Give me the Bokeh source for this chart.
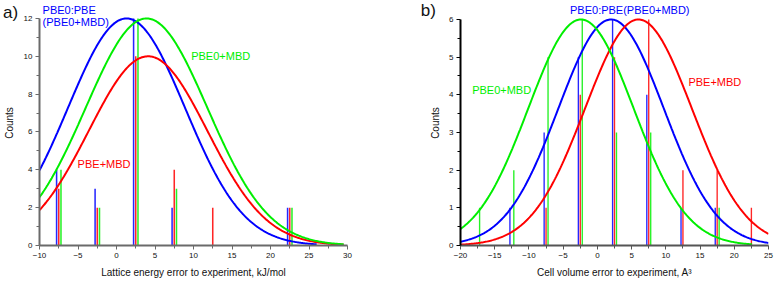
import numpy as np
from bokeh.plotting import figure
from bokeh.models import ColumnDataSource, Range1d, Label, FixedTicker
from bokeh.layouts import row
from bokeh.transform import dodge
from bokeh.embed import file_html
from bokeh.resources import INLINE

# ---------------- data: panel a (lattice energy error, kJ/mol) ----------------
a_bins = [-7.5, -2.5, 2.5, 7.5, 12.5, 17.5, 22.5]
a_pbe0_pbe = [4, 3, 12, 2, 0, 0, 2]
a_pbe_mbd = [3, 2, 10, 4, 2, 0, 2]
a_pbe0_mbd = [4, 2, 12, 3, 0, 0, 2]
# gaussian fits: centre, sigma, amplitude, last x drawn
a_fit_pbe0_pbe = (1.3, 7.6, 12.0, 26.0)
a_fit_pbe_mbd = (4.1, 7.7, 10.0, 29.5)
a_fit_pbe0_mbd = (3.9, 7.9, 12.0, 29.5)

# ---------------- data: panel b (cell volume error, A^3) ----------------
b_bins = [-17.5, -12.5, -7.5, -2.5, 2.5, 7.5, 12.5, 17.5, 22.5]
b_pbe0_pbe = [0, 1, 3, 5, 6, 4, 1, 1, 0]
b_pbe_mbd = [0, 0, 1, 4, 5, 6, 2, 2, 1]
b_pbe0_mbd = [1, 2, 5, 6, 3, 3, 0, 1, 0]
b_fit_pbe0_pbe = (2.0, 7.7, 6.0, 25.0)
b_fit_pbe_mbd = (6.0, 7.8, 6.0, 25.0)
b_fit_pbe0_mbd = (-2.4, 7.7, 6.0, 22.6)

BLUE = "#0000ff"
RED = "#ff0000"
GREEN = "#00ee00"
FONT = "Liberation Sans"


def gauss(fit, x0):
    mu, sig, amp, x1 = fit
    x = np.linspace(x0, x1, 300)
    return x, amp * np.exp(-((x - mu) ** 2) / (2 * sig ** 2))


def style(p, xlabel, ycolor, xcolor, ystandoff):
    p.outline_line_color = None
    p.xgrid.visible = False
    p.ygrid.visible = False
    for ax, col in ((p.xaxis[0], xcolor), (p.yaxis[0], ycolor)):
        ax.axis_line_color = col
        ax.axis_line_width = 2
        ax.major_tick_line_color = col
        ax.minor_tick_line_color = col
        ax.major_tick_line_width = 1
        ax.minor_tick_line_width = 1
        ax.major_tick_out = 4
        ax.major_tick_in = 0
        ax.minor_tick_out = 3
        ax.minor_tick_in = 0
        ax.major_label_text_font = FONT
        ax.major_label_text_font_size = "8px"
        ax.major_label_text_color = "#111111"
        ax.major_label_standoff = 3
        ax.axis_label_text_font = FONT
        ax.axis_label_text_font_size = "10px"
        ax.axis_label_text_font_style = "normal"
        ax.axis_label_text_color = "#111111"
    p.xaxis[0].axis_label_standoff = 6
    p.yaxis[0].axis_label_standoff = ystandoff
    p.xaxis.axis_label = xlabel
    p.yaxis.axis_label = "Counts"


def make_panel(bins, s_blue, s_red, s_green, fits, xr, yr, xlabel, width,
               border_left, border_right, xticks, yticks, ycolor, xcolor, ystandoff):
    p = figure(width=width, height=281, output_backend="svg", toolbar_location=None,
               x_range=Range1d(*xr), y_range=Range1d(0, yr[1]),
               min_border_left=border_left, min_border_right=border_right,
               min_border_top=0, min_border_bottom=36)
    style(p, xlabel, ycolor, xcolor, ystandoff)
    p.xaxis.bounds = xr
    p.yaxis.bounds = (0, yr[0])
    p.xaxis.ticker = FixedTicker(ticks=xticks[0], minor_ticks=xticks[1])
    p.yaxis.ticker = FixedTicker(ticks=yticks[0], minor_ticks=yticks[1])

    src = ColumnDataSource(dict(x=bins, blue=s_blue, red=s_red, green=s_green))
    bw = 0.2
    p.vbar(x=dodge("x", -0.28, range=p.x_range), top="blue", width=bw, bottom=0,
           source=src, fill_color=BLUE, line_color=None, fill_alpha=0.85)
    p.vbar(x=dodge("x", 0.0, range=p.x_range), top="red", width=bw, bottom=0,
           source=src, fill_color=RED, line_color=None, fill_alpha=0.85)
    p.vbar(x=dodge("x", 0.29, range=p.x_range), top="green", width=bw, bottom=0,
           source=src, fill_color=GREEN, line_color=None, fill_alpha=0.85)

    for fit, col in zip(fits, (BLUE, RED, GREEN)):
        x, y = gauss(fit, xr[0])
        p.line(x, y, line_color=col, line_width=2)
    return p


pa = make_panel(a_bins, a_pbe0_pbe, a_pbe_mbd, a_pbe0_mbd,
                (a_fit_pbe0_pbe, a_fit_pbe_mbd, a_fit_pbe0_mbd),
                (-10, 30), (12, 12.95), "Lattice energy error to experiment, kJ/mol",
                400, 38, 53,
                (list(range(-10, 31, 5)), [-7.5, -2.5, 2.5, 7.5, 12.5, 17.5, 22.5, 27.5]),
                (list(range(0, 13, 2)), [1, 3, 5, 7, 9, 11]),
                "#6a6a6a", "#6a6a6a", 6)

pb = make_panel(b_bins, b_pbe0_pbe, b_pbe_mbd, b_pbe0_mbd,
                (b_fit_pbe0_pbe, b_fit_pbe_mbd, b_fit_pbe0_mbd),
                (-20, 25), (6, 6.504), "Cell volume error to experiment, A\u00b3",
                375, 60, 7,
                (list(range(-20, 26, 5)), [-17.5, -12.5, -7.5, -2.5, 2.5, 7.5, 12.5, 17.5, 22.5]),
                (list(range(0, 7)), [0.5, 1.5, 2.5, 3.5, 4.5, 5.5]),
                "#000000", "#555555", 5)


def lab(p, x, y, text, color, size="11px", align="left", place=None):
    l = Label(x=x, y=y, text=text, text_color=color, text_font=FONT,
              text_font_size=size, text_baseline="middle", text_align=align)
    if place is None:
        p.add_layout(l)
    else:
        p.add_layout(l, place)


lab(pa, -9.6, 12.45, "PBE0:PBE", BLUE)
lab(pa, -9.6, 11.8, "(PBE0+MBD)", BLUE)
lab(pa, 9.7, 10.0, "PBE0+MBD", GREEN)
lab(pa, -5.05, 4.3, "PBE+MBD", RED)

lab(pb, -4.0, 6.24, "PBE0:PBE(PBE0+MBD)", BLUE)
lab(pb, -18.3, 4.12, "PBE0+MBD", GREEN)
lab(pb, 13.3, 4.34, "PBE+MBD", RED)

# panel letters: put in a side panel (not clipped to the frame), positioned in data units
lab(pa, -14.75, 12.3, "a)", "#111111", size="17px", place="right")
lab(pb, -25.8, 6.24, "b)", "#111111", size="17px", place="left")

layout = row(pa, pb)
open("out.html", "w").write(file_html(layout, INLINE))
